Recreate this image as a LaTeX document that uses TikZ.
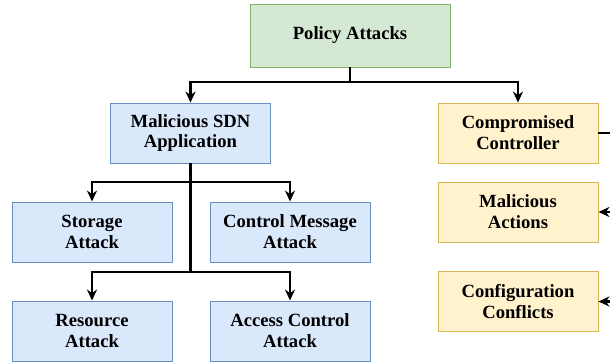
\documentclass[tikz,border=0pt]{standalone}
\usepackage{fontspec}
\setmainfont{Liberation Serif}
\usetikzlibrary{arrows.meta}

\begin{document}
\begin{tikzpicture}[
		box/.style={draw, rectangle, minimum width=3.2cm, minimum height=1.2cm, align=center, font=\fontsize{10.6}{11.9}\selectfont\bfseries, line width=0.5pt},
		root/.style={box, fill={rgb,255:red,213;green,232;blue,212}, draw={rgb,255:red,130;green,179;blue,102}, minimum width=4cm, minimum height=1.26cm},
		app/.style={box, fill={rgb,255:red,218;green,232;blue,252}, draw={rgb,255:red,108;green,142;blue,191}},
		ctl/.style={box, fill={rgb,255:red,255;green,242;blue,204}, draw={rgb,255:red,214;green,182;blue,86}},
		link/.style={line width=1.2pt},
		arr/.style={link, -{Stealth[length=2.2mm, width=2mm]}}]
		\useasboundingbox (0,0) rectangle (12.2,-7.28);
		\clip (0,0) rectangle (12.2,-7.28);

		\node[root] (policy) at (7,-0.71) {Policy Attacks};
		\node[app] (sdn) at (3.81,-2.66) {Malicious SDN\\Application};
		\node[ctl] (comp) at (10.36,-2.66) {Compromised\\Controller};
		\node[ctl] (actions) at (10.36,-4.24) {Malicious\\Actions};
		\node[ctl] (conflicts) at (10.36,-6.03) {Configuration\\Conflicts};
		\node[app] (storage) at (1.84,-4.64) {Storage\\Attack};
		\node[app] (ctrlmsg) at (5.8,-4.64) {Control Message\\Attack};
		\node[app] (resource) at (1.84,-6.62) {Resource\\Attack};
		\node[app] (access) at (5.8,-6.62) {Access Control\\Attack};

		\coordinate (split) at (7,-1.64);
		\coordinate (bus1) at (3.81,-3.64);
		\coordinate (bus2) at (3.81,-5.44);
		\coordinate (rail) at (12.5,-2.66);

		\draw[link] (policy) -- (split);
		\draw[arr] (split) -| (sdn);
		\draw[arr] (split) -| (comp);

		\draw[link] (sdn) -- (bus2);
		\draw[arr] (bus1) -| (storage);
		\draw[arr] (bus1) -| (ctrlmsg);
		\draw[arr] (bus2) -| (resource);
		\draw[arr] (bus2) -| (access);

		\draw[link] (comp) -- (rail);
		\draw[arr] (rail) |- (actions);
		\draw[arr] (rail) |- (conflicts);
	\end{tikzpicture}
\end{document}
